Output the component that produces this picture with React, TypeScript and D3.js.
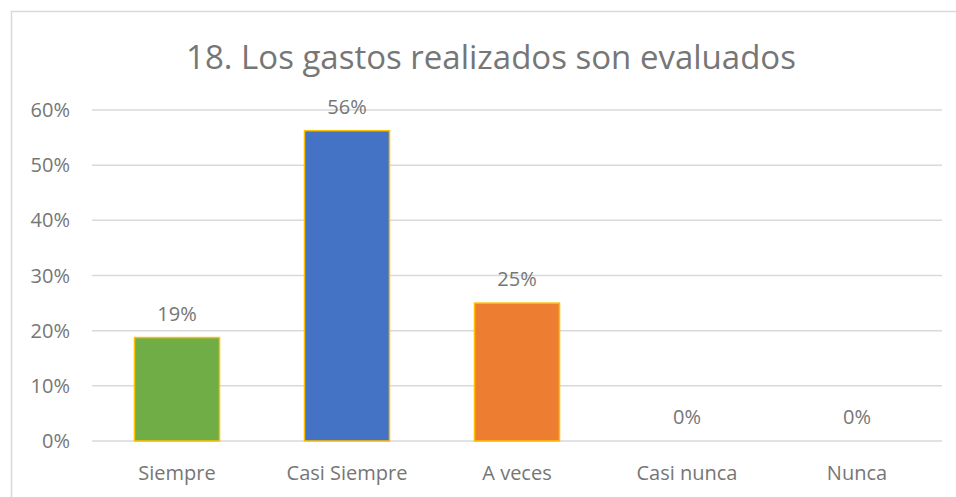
import React, { useEffect, useRef } from "react";
import * as d3 from "d3";

const title = "18. Los gastos realizados son evaluados";
const categories = ["Siempre", "Casi Siempre", "A veces", "Casi nunca", "Nunca"];
const values = [0.1875, 0.5625, 0.25, 0, 0];
const barColors = ["#70AD47", "#4472C4", "#ED7D31", "#A5A5A5", "#FFC000"];
const yTicks = [0, 0.1, 0.2, 0.3, 0.4, 0.5, 0.6];

const W = 956;
const H = 497;
const FONT = "'Open Sans', sans-serif";
const TEXT = "#767676";

const App = () => {
  const svgRef = useRef<SVGSVGElement>(null);

  useEffect(() => {
    const svg = d3.select(svgRef.current);
    svg.selectAll("*").remove();

    const plot = { left: 92, right: 942, top: 110, bottom: 441 };

    const x = d3.scaleBand().domain(categories).range([plot.left, plot.right]).paddingInner(0.5).paddingOuter(0.25);
    const y = d3.scaleLinear().domain([0, 0.6]).range([plot.bottom, plot.top]);
    const pct = d3.format(".0%");

    // chart border (right / bottom fall outside the picture)
    svg.append("rect")
      .attr("x", 11.5).attr("y", 11.5)
      .attr("width", 970).attr("height", 500)
      .attr("fill", "#fff").attr("stroke", "#d9d9d9").attr("stroke-width", 1.5);

    svg.append("text")
      .attr("x", 491).attr("y", 69)
      .attr("text-anchor", "middle")
      .attr("font-family", FONT).attr("font-size", 33)
      .attr("fill", TEXT)
      .text(title);

    // grid
    svg.append("g")
      .selectAll("line")
      .data(yTicks)
      .join("line")
      .attr("x1", plot.left).attr("x2", plot.right)
      .attr("y1", d => y(d)).attr("y2", d => y(d))
      .attr("stroke", "#d9d9d9").attr("stroke-width", 1.5);

    // y labels
    svg.append("g")
      .selectAll("text")
      .data(yTicks)
      .join("text")
      .attr("x", 70).attr("y", d => y(d) + 7)
      .attr("text-anchor", "end")
      .attr("font-family", FONT).attr("font-size", 20)
      .attr("fill", TEXT)
      .text(d => pct(d));

    // bars
    svg.append("g")
      .selectAll("rect")
      .data(values)
      .join("rect")
      .attr("x", (d, i) => x(categories[i])!)
      .attr("y", d => y(d))
      .attr("width", x.bandwidth())
      .attr("height", d => plot.bottom - y(d))
      .attr("fill", (d, i) => barColors[i])
      .attr("stroke", d => (d > 0 ? "#FFC000" : "none"))
      .attr("stroke-width", 1.5);

    // data labels
    svg.append("g")
      .selectAll("text")
      .data(values)
      .join("text")
      .attr("x", (d, i) => x(categories[i])! + x.bandwidth() / 2)
      .attr("y", d => y(d) - 17)
      .attr("text-anchor", "middle")
      .attr("font-family", FONT).attr("font-size", 20)
      .attr("fill", TEXT)
      .text(d => pct(d));

    // category labels
    svg.append("g")
      .selectAll("text")
      .data(categories)
      .join("text")
      .attr("x", d => x(d)! + x.bandwidth() / 2)
      .attr("y", 480)
      .attr("text-anchor", "middle")
      .attr("font-family", FONT).attr("font-size", 20)
      .attr("fill", TEXT)
      .text(d => d);
  }, []);

  return (
    <svg
      ref={svgRef}
      width={W}
      height={H}
      style={{ position: "fixed", left: 0, top: 0, background: "#fff" }}
    />
  );
};

export default App;
